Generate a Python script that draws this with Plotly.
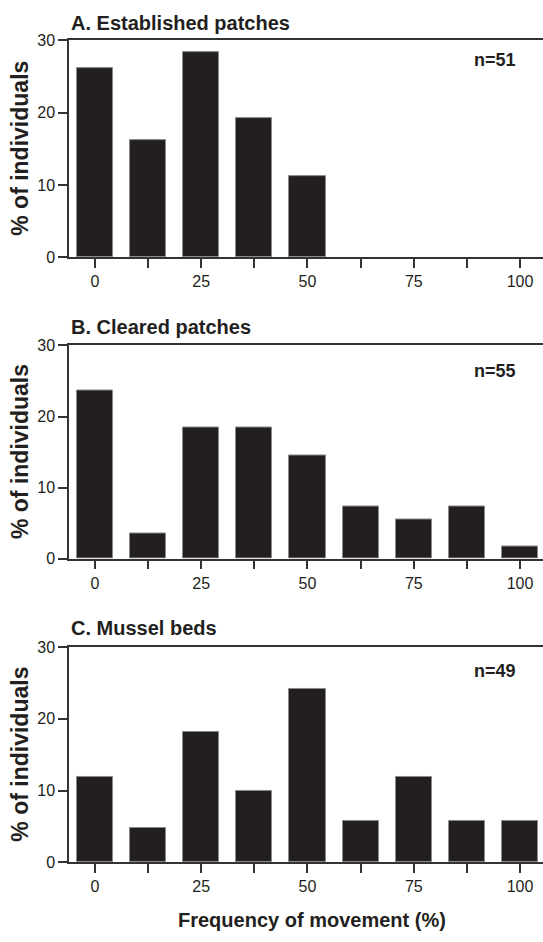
import plotly.graph_objects as go

# ---- data ----
categories = [0, 12.5, 25, 37.5, 50, 62.5, 75, 87.5, 100]
tick_labels = ["0", "", "25", "", "50", "", "75", "", "100"]
established = [26.2, 16.2, 28.3, 19.2, 11.2, 0, 0, 0, 0]
cleared = [23.6, 3.6, 18.4, 18.4, 14.5, 7.3, 5.5, 7.3, 1.7]
mussel = [11.9, 4.8, 18.1, 9.9, 24.1, 5.8, 11.9, 5.8, 5.8]
panel_titles = ["A. Established patches", "B. Cleared patches", "C. Mussel beds"]
n_labels = ["n=51", "n=55", "n=49"]
n_label_y = [27.3, 26.4, 26.6]
y_title = "% of individuals"
x_title = "Frequency of movement (%)"

series = [established, cleared, mussel]

W, H = 543, 942
FONT = "Liberation Sans, Arial, Helvetica, sans-serif"
INK = "#231f20"
AX = "#333333"

# pixel layout (top, bottom) of each plot area
panels_px = [(32.7, 254.0), (343.7, 560.7), (650.7, 870.0)]
title_px = [15.7, 325.0, 631.7]
left_px = 69

fig = go.Figure()
for i, vals in enumerate(series):
    ax = "" if i == 0 else str(i + 1)
    line_w = [1 if v > 0 else 0 for v in vals]
    fig.add_trace(go.Bar(
        x=categories, y=vals, width=8.5,
        marker=dict(color=INK, line=dict(color="#8a8a8a", width=line_w)),
        xaxis="x" + ax, yaxis="y" + ax, showlegend=False,
    ))
    top, bot = panels_px[i]
    dom = [1 - bot / H, 1 - top / H]
    fig.layout["xaxis" + ax] = dict(
        domain=[0, 1], anchor="y" + ax, range=[-6.1, 105.4],
        tickmode="array", tickvals=categories, ticktext=tick_labels,
        ticks="outside", ticklen=9, tickwidth=1.5, tickcolor=AX,
        showline=True, linecolor=AX, linewidth=1.5, mirror=True,
        showgrid=False, zeroline=False,
        tickfont=dict(family=FONT, size=16, color=INK),
        fixedrange=True,
    )
    fig.layout["yaxis" + ax] = dict(
        domain=dom, anchor="x" + ax, range=[0, 30],
        tickvals=[0, 10, 20, 30],
        ticks="outside", ticklen=9, tickwidth=1.5, tickcolor=AX,
        showline=True, linecolor=AX, linewidth=1.5, mirror=False,
        showgrid=False, zeroline=False,
        tickfont=dict(family=FONT, size=16, color=INK),
        fixedrange=True,
    )
    # panel title
    fig.add_annotation(
        text=panel_titles[i], xref="paper", yref="paper",
        x=0, y=1 - title_px[i] / H, xanchor="left", yanchor="middle",
        xshift=0, showarrow=False,
        font=dict(family=FONT, size=20, color=INK, weight="bold"),
    )
    # n label
    fig.add_annotation(
        text=n_labels[i], xref="x" + ax, yref="y" + ax,
        x=94.1, y=n_label_y[i], xanchor="center", yanchor="middle",
        showarrow=False,
        font=dict(family=FONT, size=18, color=INK, weight="bold"),
    )
    # y-axis title
    fig.add_annotation(
        text=y_title, xref="paper", yref="y" + ax + " domain",
        x=(20 - left_px) / (W - left_px), y=0.5, xanchor="center", yanchor="middle",
        textangle=-90, showarrow=False,
        font=dict(family=FONT, size=23, color=INK, weight="bold"),
    )

fig.add_annotation(
    text=x_title, xref="paper", yref="paper",
    x=(312 - left_px) / (W - left_px), y=1 - 929 / H, xanchor="center", yanchor="middle",
    showarrow=False,
    font=dict(family=FONT, size=20, color=INK, weight="bold"),
)

fig.update_layout(
    width=W, height=H,
    margin=dict(l=left_px, r=0, t=0, b=0),
    paper_bgcolor="white", plot_bgcolor="white",
    bargap=0,
)

fig.write_html("out.html", config={"displayModeBar": False})
